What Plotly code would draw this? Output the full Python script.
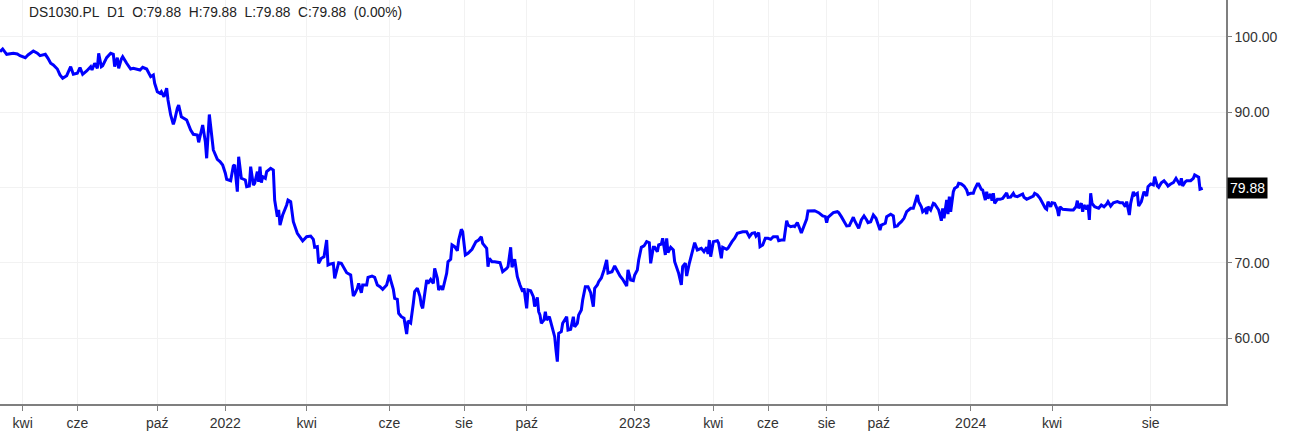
import plotly.graph_objects as go

# ---- data -------------------------------------------------------------
symbol = "DS1030.PL"
interval = "D1"
last_open = 79.88
last_high = 79.88
last_low = 79.88
last_close = 79.88
last_change_pct = 0.00

# trading-session number of each close
sessions = [
    0, 2, 5, 8, 10, 13, 15, 19, 21, 25, 28, 30, 34, 36, 38, 40, 43, 45, 47, 50,
    53, 55, 58, 60, 62, 65, 68, 69, 71, 73, 74, 76, 77, 80, 83, 85, 86, 88, 89, 91,
    92, 95, 98, 100, 103, 105, 107, 110, 113, 115, 116, 118, 120, 121, 123, 125, 126, 128, 130, 131,
    133, 134, 136, 137, 140, 143, 145, 148, 149,
    152, 154, 155, 157, 160, 163, 165, 167, 169, 170, 173, 175, 176, 178, 179, 181, 184, 185, 187, 188,
    190, 191, 193, 194, 195, 196, 197, 199, 200, 203, 205, 206, 208, 209, 210, 212, 215, 216, 218, 219,
    220, 223, 225, 227, 230, 233, 235, 236, 238, 239, 241, 243, 245, 246, 248, 250, 251, 253, 254, 256,
    258, 260, 263, 265, 266, 268, 269, 271, 272, 275, 276, 279, 281, 283, 285, 287, 290, 292, 293, 295,
    296, 298, 299,
    301, 303, 305, 306, 308, 310, 311, 313, 315, 316, 317, 320, 321, 323, 325, 326, 328, 329, 331, 332,
    335, 336, 338, 339, 341, 343, 344, 346, 347, 349, 351, 354, 355, 357, 359, 361, 362, 365, 366, 367,
    369, 371, 375, 377, 380, 381, 383, 384, 386, 388, 390, 392, 393, 395, 396, 398, 400, 401, 403, 404,
    405, 406, 408, 409, 410, 412, 414, 416, 417, 418, 419, 421, 422, 425, 426, 428, 430, 431, 433, 434,
    436, 437, 439, 441, 443, 445, 446, 448, 449,
    451, 453, 455, 456, 459, 461, 463, 465, 467, 468, 470, 471, 473, 475, 476, 478, 479, 481, 483, 485,
    487, 488, 490, 491, 493, 494, 496, 497, 499, 500, 501, 503, 505, 506, 508, 509, 511, 512, 514, 515,
    517, 519, 521, 523, 524, 526, 528, 530, 531, 532, 533, 535, 538, 539, 541, 542, 545, 546, 549, 551,
    553, 555, 557, 560, 562, 564, 566, 567, 569, 570, 572, 574, 576, 578, 580, 583, 584, 586, 588, 590,
    591, 593, 595, 596, 598, 600,
    601, 603, 605, 606, 609, 611, 614, 616, 617, 619, 620, 621, 623, 625, 628, 629, 631, 633, 635, 637,
    638, 640, 641, 643, 644, 646, 648, 650, 651, 653, 655, 657, 659, 660, 661, 664, 665, 668, 670, 671,
    673, 674, 676, 678, 680, 683, 685, 686, 688, 689, 691, 692, 694, 695, 696, 698, 700, 701, 703, 704,
    705, 706, 707, 708, 710, 711, 712, 713, 715, 716, 718, 719, 721, 723, 725, 726, 728, 730, 731, 733,
    734, 736, 737, 739, 740, 741, 743, 744, 745, 746, 748,
    750, 752, 755, 756, 758, 760, 761, 763, 765, 767, 768, 770, 773, 775, 776, 778, 780, 782, 784, 785,
    786, 788, 789, 791, 793, 794, 795, 797, 800, 803, 805, 807, 808, 809, 811, 812, 813, 815, 816, 817,
    818, 819, 821, 823, 824, 826, 828, 830, 831, 833, 835, 838, 840, 842, 844, 845, 847, 848, 850, 851,
    853, 854, 856, 858, 860, 861, 863, 865, 866, 868, 869, 871, 873, 875, 876, 878, 880, 882, 884, 885,
    886, 887, 889, 890, 893, 895, 896, 898, 899, 900, 902,
]

closes = [
    98.01, 98.37, 97.66, 97.74, 97.80, 97.70, 97.48, 97.21, 97.57, 98.10, 97.80, 97.48, 97.66, 97.13, 96.47, 96.24, 95.71, 94.92, 94.48, 94.82,
    96.02, 95.01, 95.14, 95.89, 95.01, 95.45, 96.02, 95.58, 96.47, 95.80, 97.80, 96.02, 96.15, 97.21, 97.80, 97.66, 96.02, 97.21, 95.80, 97.04,
    97.35, 96.47, 95.71, 95.80, 95.71, 95.58, 95.94, 95.71, 94.69, 94.92, 93.81, 92.70, 92.49, 92.70, 92.03, 93.15, 91.60, 89.61, 88.37, 88.94,
    90.50, 90.93, 89.38, 89.25, 88.94, 87.61, 87.04, 86.95, 85.98,
    88.28, 86.06, 83.86, 89.67, 84.96, 83.72, 83.41, 82.97, 81.87, 81.07, 80.88, 82.84, 82.97, 79.42, 84.07, 81.20, 80.98, 80.09, 80.18, 82.74,
    80.31, 80.54, 82.08, 80.75, 82.74, 80.62, 81.42, 81.20, 82.08, 82.53, 82.30, 78.32, 76.11, 77.00, 75.00, 76.33, 77.66, 78.32, 78.10, 76.33,
    75.44, 73.90, 73.32, 72.88, 73.45, 73.54, 73.10, 72.04, 72.12, 69.92, 70.58, 70.79, 73.01, 69.69, 69.83, 69.92, 67.93, 69.47, 70.00, 69.92,
    69.25, 68.67, 68.37, 65.58, 65.84, 66.60, 67.26, 66.01, 67.04, 67.04, 68.06, 68.23, 68.06, 67.04, 66.81, 66.47, 67.04, 68.37, 67.70, 66.47,
    65.27, 65.14, 63.28,
    62.83, 62.62, 60.53, 62.26, 61.99, 64.61, 66.15, 66.60, 65.49, 64.36, 63.94, 67.70, 67.26, 67.79, 67.26, 69.25, 67.93, 66.37, 66.91, 66.37,
    68.59, 70.13, 70.45, 72.35, 72.12, 71.59, 73.01, 74.43, 74.11, 71.02, 71.25, 71.78, 72.12, 72.79, 73.01, 73.45, 72.57, 71.91, 69.47, 70.58,
    70.13, 70.13, 70.00, 68.80, 69.25, 69.47, 72.04, 69.39, 70.45, 68.14, 67.04, 66.15, 66.60, 63.94, 66.37, 66.28, 65.48, 64.16, 65.40, 63.49,
    63.05, 61.95, 62.40, 63.49, 62.40, 62.83, 61.50, 60.18, 58.41, 56.86, 60.62, 60.84, 61.95, 62.83, 61.06, 61.16, 62.83, 61.50, 61.95, 63.05,
    63.72, 65.05, 66.81, 66.81, 66.01, 64.16, 66.60, 67.04, 67.48,
    67.97, 69.03, 70.36, 68.63, 68.80, 69.56, 68.80, 68.23, 67.79, 67.47, 66.90, 69.03, 67.70, 67.61, 68.37, 69.03, 70.36, 72.04, 72.22, 72.79,
    72.65, 69.92, 72.04, 72.04, 71.46, 72.35, 72.48, 73.24, 71.02, 73.24, 71.33, 72.04, 71.69, 70.13, 69.25, 68.59, 67.04, 69.47, 69.92, 68.23,
    69.92, 71.33, 72.65, 71.69, 71.78, 71.91, 71.46, 72.04, 71.15, 73.01, 70.79, 72.79, 72.92, 72.57, 70.58, 72.04, 71.78, 71.91, 72.79, 73.24,
    73.90, 73.98, 74.11, 74.11, 73.45, 73.90, 73.98, 73.54, 73.98, 72.12, 72.35, 73.24, 73.24, 73.10, 73.45, 73.45, 72.92, 73.01, 73.01, 75.57,
    75.00, 74.78, 74.87, 74.78, 75.31, 74.43,
    73.94, 74.87, 75.79, 76.86, 76.86, 76.90, 76.64, 76.42, 76.20, 76.11, 75.31, 76.03, 76.33, 76.64, 76.77, 76.64, 76.11, 75.44, 74.87, 74.91,
    75.23, 76.03, 75.57, 75.00, 74.56, 75.67, 76.20, 75.67, 75.31, 75.44, 76.33, 75.89, 75.00, 74.34, 75.00, 75.23, 76.11, 76.42, 76.20, 74.78,
    74.87, 75.13, 75.44, 75.89, 76.77, 77.22, 77.22, 77.88, 78.99, 78.10, 77.43, 76.77, 77.09, 76.46, 77.43, 76.99, 77.88, 77.79, 77.22, 76.99,
    76.33, 75.57, 77.22, 75.89, 78.32, 76.46, 78.76, 76.77, 79.42, 79.87, 80.09, 80.54, 80.45, 80.18, 79.65, 79.08, 79.21, 79.21, 79.74, 80.45,
    80.45, 79.74, 79.65, 78.32, 79.42, 78.54, 79.12, 78.23, 79.21, 77.88, 78.41,
    78.41, 78.52, 79.25, 78.68, 78.72, 79.21, 78.85, 78.76, 78.99, 79.12, 78.68, 78.41, 78.68, 78.85, 79.21, 78.99, 78.55, 77.88, 77.22, 77.09,
    78.10, 77.43, 77.96, 77.88, 77.09, 76.20, 77.43, 77.09, 76.99, 76.99, 76.99, 77.43, 78.23, 77.22, 77.88, 76.77, 77.66, 77.09, 77.66, 75.67,
    79.21, 77.88, 77.43, 77.22, 77.22, 77.66, 77.43, 77.79, 78.10, 77.52, 77.96, 78.10, 77.96, 77.96, 77.43, 78.10, 76.33, 77.88, 79.42, 78.99,
    79.21, 77.52, 78.10, 79.42, 78.85, 80.09, 80.45, 80.31, 81.42, 80.18, 80.01, 80.62, 80.88, 80.45, 80.18, 80.45, 80.62, 81.20, 80.62, 80.31,
    81.20, 80.18, 80.75, 80.88, 80.88, 81.20, 81.64, 81.51, 81.34, 79.75, 79.88,
]

# x-axis labels (first session of the month)
x_tick_sessions = [17, 58, 118, 169, 230, 292, 348, 395, 476, 535, 576, 620, 659, 728, 789, 863]
x_tick_labels = ["kwi", "cze", "paź", "2022", "kwi", "cze", "sie", "paź",
                 "2023", "kwi", "cze", "sie", "paź", "2024", "kwi", "sie"]

y_tick_values = [60, 70, 80, 90, 100]
y_tick_labels = ["60.00", "70.00", "", "90.00", "100.00"]

x_range = [0, 919.5]
y_range = [51.24, 104.87]

# ---- figure -----------------------------------------------------------
FONT = "Liberation Sans, Arial, Helvetica, sans-serif"
AXIS_GREY = "#7f7f7f"
GRID = "#f2f2f2"

fig = go.Figure()
fig.add_trace(go.Scatter(
    x=sessions, y=closes, mode="lines",
    line=dict(color="#0000ff", width=3),
    hoverinfo="skip", showlegend=False,
))

nb = "\u00a0\u00a0"
title_text = (f"{symbol}{nb}{interval}{nb}O:{last_open:.2f}{nb}H:{last_high:.2f}{nb}"
              f"L:{last_low:.2f}{nb}C:{last_close:.2f}{nb}({last_change_pct:.2f}%)")

fig.add_annotation(
    xref="paper", yref="paper", x=0, y=1, xanchor="left", yanchor="top",
    xshift=27, yshift=-3, showarrow=False, text=title_text,
    font=dict(family=FONT, size=13.75, color="#222222"),
)

fig.add_annotation(
    xref="paper", yref="y", x=1, y=last_close, xanchor="left", yanchor="middle",
    xshift=1, showarrow=False, text=f"{last_close:.2f}",
    font=dict(family=FONT, size=14, color="#ffffff"),
    bgcolor="#000000", borderpad=2,
)

fig.update_layout(
    width=1310, height=434,
    margin=dict(l=0, r=84, t=0, b=30),
    paper_bgcolor="#ffffff", plot_bgcolor="#ffffff",
    font=dict(family=FONT, size=14, color="#333333"),
    xaxis=dict(
        range=x_range, tickmode="array", tickvals=x_tick_sessions, ticktext=x_tick_labels,
        showgrid=True, gridcolor=GRID, gridwidth=1, zeroline=False,
        showline=True, linecolor=AXIS_GREY, linewidth=1.5,
        ticks="outside", ticklen=5, tickcolor=AXIS_GREY, tickwidth=1,
        tickfont=dict(family=FONT, size=14, color="#333333"),
        fixedrange=True, automargin=False,
    ),
    yaxis=dict(
        side="right", range=y_range, tickmode="array",
        tickvals=y_tick_values, ticktext=y_tick_labels,
        showgrid=True, gridcolor=GRID, gridwidth=1, zeroline=False,
        showline=True, linecolor=AXIS_GREY, linewidth=1.5,
        ticks="outside", ticklen=4, tickcolor=AXIS_GREY, tickwidth=1,
        tickfont=dict(family=FONT, size=14, color="#333333"),
        fixedrange=True, automargin=False,
    ),
)

fig.write_html("out.html", config={"displayModeBar": False})

# remove the browser's default page margin so the figure sits at (0, 0)
with open("out.html", "r", encoding="utf-8") as fh:
    html = fh.read()
html = html.replace("<head>", "<head><style>html,body{margin:0;padding:0;overflow:hidden;}</style>", 1)
with open("out.html", "w", encoding="utf-8") as fh:
    fh.write(html)
